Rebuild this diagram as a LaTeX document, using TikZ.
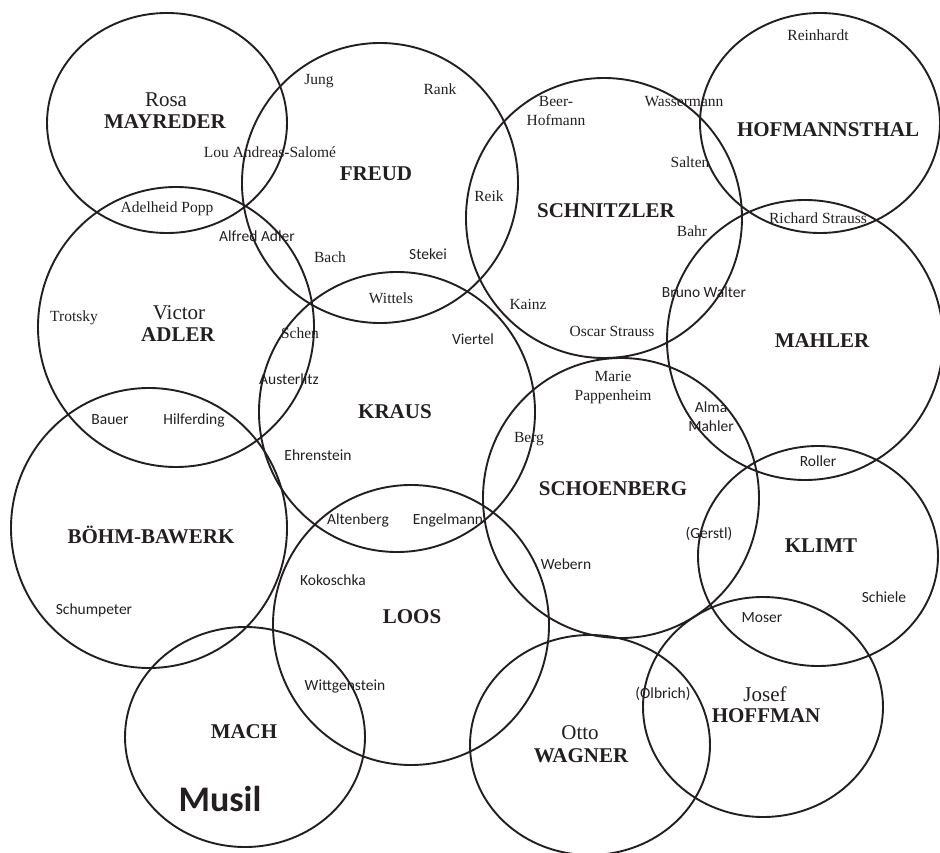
\documentclass[tikz,border=0pt]{standalone}
\usepackage{fontspec}
\setmainfont{Liberation Serif}
\newfontfamily\carl{Carlito}
\usetikzlibrary{shapes.geometric}
\definecolor{ink}{RGB}{35,31,32}
\tikzset{
  big/.style={draw=ink, line width=1.9pt, ellipse, inner sep=0pt, minimum width=276pt, minimum height=280pt},
  small/.style={draw=ink, line width=1.9pt, ellipse, inner sep=0pt, minimum width=240pt, minimum height=220pt},
  head/.style={text=ink, font=\fontsize{21}{21}\selectfont\bfseries, inner sep=0pt},
  first/.style={text=ink, font=\fontsize{21}{21}\selectfont, inner sep=0pt},
  ser/.style={text=ink, font=\fontsize{15.5}{19}\selectfont, inner sep=0pt, align=center},
  san/.style={text=ink, font=\carl\fontsize{15.5}{19}\selectfont, inner sep=0pt, align=center},
}
\begin{document}
\begin{tikzpicture}[x=1pt,y=-1pt]
\useasboundingbox (0,0) rectangle (940,853);
% circles
\node[small] (cMay) at (167,123) {};
\node[big]   (cFre) at (380,183) {};
\node[big]   (cSch) at (604,218) {};
\node[small] (cHof) at (820,123) {};
\node[big]   (cAdl) at (176,327) {};
\node[big]   (cKra) at (397,412) {};
\node[big]   (cMah) at (805,340) {};
\node[big]   (cSbg) at (621,498) {};
\node[big]   (cBoe) at (149,528) {};
\node[small] (cKli) at (818,556) {};
\node[big]   (cLoo) at (411,625) {};
\node[small] (cMac) at (245,737) {};
\node[small] (cWag) at (590,745) {};
\node[small] (cJho) at (763,707) {};
% main names
\node[first] (tRosa) at (166,100) {Rosa};
\node[head]  (tMay) at (165,122) {MAYREDER};
\node[head]  (tFre) at (376,174) {FREUD};
\node[head]  (tSch) at (606,211) {SCHNITZLER};
\node[head]  (tHof) at (828,130) {HOFMANNSTHAL};
\node[first] (tVic) at (179,313) {Victor};
\node[head]  (tAdl) at (178,335) {ADLER};
\node[head]  (tKra) at (395,412) {KRAUS};
\node[head]  (tMah) at (822,341) {MAHLER};
\node[head]  (tSbg) at (613,489) {SCHOENBERG};
\node[head]  (tKli) at (821,546) {KLIMT};
\node[head]  (tBoe) at (151,535) {BÖHM-BAWERK};
\node[head]  (tLoo) at (412,617) {LOOS};
\node[head]  (tMac) at (244,732) {MACH};
\node[first] (tJos) at (765,694) {Josef};
\node[head]  (tJho) at (766,716) {HOFFMAN};
\node[first] (tOtt) at (580,733) {Otto};
\node[head]  (tWag) at (581,756) {WAGNER};
\node[text=ink, font=\carl\fontsize{36}{36}\selectfont\bfseries, inner sep=0pt] (tMus) at (220,799) {Musil};
% serif labels
\node[ser] (lLou) at (270,152) {Lou Andreas-Salomé};
\node[ser] (lJung) at (319,81) {Jung};
\node[ser] (lRank) at (440,89) {Rank};
\node[ser] (lPopp) at (167,209) {Adelheid Popp};
\node[ser] (lBach) at (330,257) {Bach};
\node[ser] (lWit) at (391,298) {Wittels};
\node[ser] (lTro) at (74,318) {Trotsky};
\node[ser] (lSchen) at (300,333) {Schen};
\node[ser] (lReik) at (489,196) {Reik};
\node[ser] (lBeer) at (556,111) {Beer-\\Hofmann};
\node[ser] (lWas) at (684,102) {Wassermann};
\node[ser] (lSal) at (690,162) {Salten};
\node[ser] (lBahr) at (692,231) {Bahr};
\node[ser] (lKainz) at (528,304) {Kainz};
\node[ser] (lOsc) at (612,331) {Oscar Strauss};
\node[ser] (lRein) at (818,35) {Reinhardt};
\node[ser] (lRich) at (818,218) {Richard Strauss};
\node[ser] (lMarie) at (613,388) {Marie\\Pappenheim};
\node[ser] (lBerg) at (529,439) {Berg};
% sans labels
\node[san] (lAlf) at (257,236) {Alfred Adler};
\node[san] (lSte) at (428,254) {Stekei};
\node[san] (lAus) at (289,379) {Austerlitz};
\node[san] (lBau) at (110,420) {Bauer};
\node[san] (lHil) at (194,420) {Hilferding};
\node[san] (lEhr) at (318,455) {Ehrenstein};
\node[san] (lVie) at (473,339) {Viertel};
\node[san] (lBru) at (704,292) {Bruno Walter};
\node[san] (lAlma) at (711,417) {Alma\\Mahler};
\node[san] (lRol) at (818,461) {Roller};
\node[san] (lGer) at (709,534) {(Gerstl)};
\node[san] (lWeb) at (566,564) {Webern};
\node[san] (lSchi) at (884,597) {Schiele};
\node[san] (lMos) at (762,618) {Moser};
\node[san] (lSchu) at (94,610) {Schumpeter};
\node[san] (lAlt) at (358,520) {Altenberg};
\node[san] (lEng) at (448,520) {Engelmann};
\node[san] (lKok) at (333,580) {Kokoschka};
\node[san] (lWitt) at (345,686) {Wittgenstein};
\node[san] (lOlb) at (663,694) {(Olbrich)};
\end{tikzpicture}
\end{document}
